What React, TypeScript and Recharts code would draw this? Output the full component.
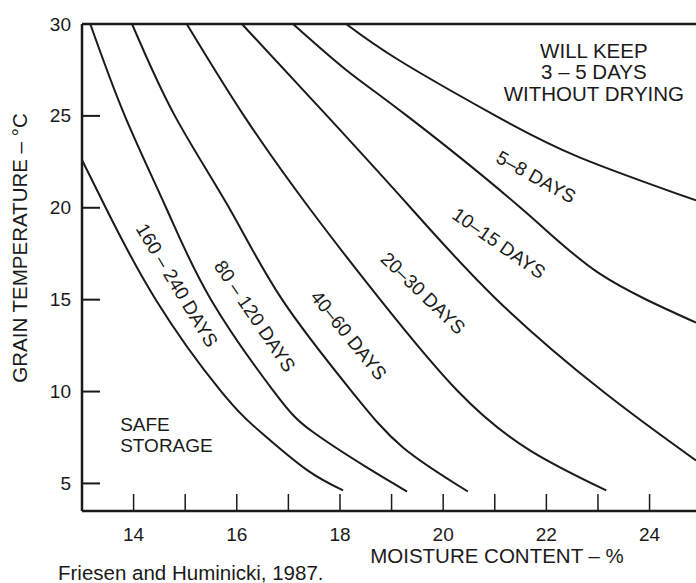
import React from 'react';
import { LineChart, Line, XAxis, YAxis, ReferenceLine, ReferenceDot } from 'recharts';

// moisture content (%) / grain temperature (°C) pairs
const safeCurve = [[13.0, 22.6], [13.46, 20.0], [14.43, 15.0], [15.7, 10.0], [16.5, 7.7], [17.35, 5.75], [18.06, 4.62]];
const days160Curve = [[13.16, 30], [13.83, 25.0], [14.63, 20.0], [15.5, 15.0], [16.72, 10.0], [17.45, 7.85], [18.52, 5.87], [19.3, 4.56]];
const days80Curve = [[13.97, 30], [14.8, 25.0], [15.85, 20.0], [16.88, 15.0], [18.23, 10.0], [19.22, 6.96], [20.48, 4.56]];
const days40Curve = [[15.03, 30], [16.14, 25.0], [17.4, 20.0], [18.78, 15.0], [20.29, 10.0], [21.68, 6.8], [23.16, 4.62]];
const days20Curve = [[16.1, 30], [17.75, 25.0], [19.37, 20.0], [21.04, 15.0], [23.1, 10.0], [24.9, 6.25]];
const days10Curve = [[17.09, 30], [18.12, 27.5], [19.3, 25.0], [21.5, 20.0], [23.04, 16.4], [24.9, 13.75]];
const days5Curve = [[18.12, 30], [19.16, 28.0], [21.02, 25.0], [22.63, 22.76], [24.9, 20.4]];

const curves = [safeCurve, days160Curve, days80Curve, days40Curve, days20Curve, days10Curve, days5Curve];

const xTicks = [14, 15, 16, 17, 18, 19, 20, 21, 22, 23, 24];
const xTickLabels = [14, 16, 18, 20, 22, 24];
const yTicks = [5, 10, 15, 20, 25, 30];

// annotation text: [label, moisture, temperature, angle]
const zoneLabels: [string, number, number, number][] = [
  ['160 – 240 DAYS', 14.84, 15.78, 59],
  ['80 – 120 DAYS', 16.35, 14.1, 56],
  ['40–60 DAYS', 18.17, 13.06, 51],
  ['20–30 DAYS', 19.61, 15.35, 44],
  ['10–15 DAYS', 21.08, 18.07, 35],
  ['5–8 DAYS', 21.8, 21.67, 29],
];
const keepLines = ['WILL KEEP', '3 – 5 DAYS', 'WITHOUT DRYING'];
const safeLines = ['SAFE', 'STORAGE'];

const FONT = '"Liberation Sans", Arial, Helvetica, sans-serif';
const INK = '#1a1a1a';

const toData = (c: number[][]) => c.map(([m, t]) => ({ m, t }));

const YTick = (props: any) => {
  const { x, y, payload } = props;
  return (
    <g>
      <line x1={x} y1={y} x2={x + 18} y2={y} stroke={INK} strokeWidth={2} />
      <text x={x - 11} y={y} textAnchor="end" dominantBaseline="central" fontSize={19} fontFamily={FONT} fill={INK}>
        {payload.value}
      </text>
    </g>
  );
};

const XTick = (props: any) => {
  const { x, y, payload } = props;
  const show = xTickLabels.includes(payload.value);
  return (
    <g>
      <line x1={x} y1={y} x2={x} y2={y - 17} stroke={INK} strokeWidth={1.5} />
      {show && (
        <text x={x} y={y + 23} textAnchor="middle" dominantBaseline="central" fontSize={19} fontFamily={FONT} fill={INK}>
          {payload.value}
        </text>
      )}
    </g>
  );
};

const rotatedLabel = (text: string, angle: number) => (p: any) => (
  <text
    x={p.cx}
    y={p.cy}
    transform={`rotate(${angle} ${p.cx} ${p.cy})`}
    textAnchor="middle"
    dominantBaseline="central"
    fontSize={19}
    fontFamily={FONT}
    fill={INK}
  >
    {text}
  </text>
);

const blockLabel = (lines: string[], anchor: 'middle' | 'start', size: number, lh: number) => (p: any) => (
  <text x={p.cx} y={p.cy} textAnchor={anchor} fontSize={size} fontFamily={FONT} fill={INK}>
    {lines.map((l, i) => (
      <tspan key={i} x={p.cx} y={p.cy + (i - (lines.length - 1) / 2) * lh} dominantBaseline="central">
        {l}
      </tspan>
    ))}
  </text>
);

export default function App() {
  return (
    <div style={{ position: 'relative', width: 696, height: 583, background: '#fff' }}>
      <style>{`body{margin:0;background:#fff}`}</style>
      <LineChart width={696} height={583} margin={{ top: 24, right: 0, left: 0, bottom: 32 }}>
        <XAxis
          dataKey="m"
          type="number"
          domain={[13, 24.9]}
          ticks={xTicks}
          allowDataOverflow
          height={40}
          tickSize={0}
          tickMargin={0}
          tickLine={false}
          tick={<XTick />}
          axisLine={{ stroke: INK, strokeWidth: 2.5 }}
        />
        <YAxis
          dataKey="t"
          type="number"
          domain={[3.5, 30]}
          ticks={yTicks}
          allowDataOverflow
          width={82}
          tickSize={0}
          tickMargin={0}
          tickLine={false}
          tick={<YTick />}
          axisLine={{ stroke: INK, strokeWidth: 2.5 }}
        />
        <ReferenceLine y={30} stroke={INK} strokeWidth={2.5} />
        {curves.map((c, i) => (
          <Line
            key={i}
            data={toData(c)}
            dataKey="t"
            type="natural"
            stroke={INK}
            strokeWidth={2}
            dot={false}
            activeDot={false}
            isAnimationActive={false}
          />
        ))}
        {zoneLabels.map(([t, m, v, a]) => (
          <ReferenceDot key={t} x={m} y={v} r={0} shape={rotatedLabel(t, a)} />
        ))}
        <ReferenceDot x={22.92} y={27.39} r={0} shape={blockLabel(keepLines, 'middle', 20.5, 21.5)} />
        <ReferenceDot x={13.74} y={7.65} r={0} shape={blockLabel(safeLines, 'start', 19, 21)} />
      </LineChart>
      <svg width={696} height={583} style={{ position: 'absolute', left: 0, top: 0, pointerEvents: 'none' }}>
        <text
          x={19}
          y={248}
          transform="rotate(-90 19 248)"
          textAnchor="middle"
          dominantBaseline="central"
          fontSize={20.5}
          fontFamily={FONT}
          fill={INK}
        >
          GRAIN TEMPERATURE – °C
        </text>
        <text x={497} y={555} textAnchor="middle" dominantBaseline="central" fontSize={20.5} fontFamily={FONT} fill={INK}>
          MOISTURE CONTENT – %
        </text>
        <text x={58} y={572} dominantBaseline="central" fontSize={20.5} fontFamily={FONT} fill={INK}>
          Friesen and Huminicki, 1987.
        </text>
      </svg>
    </div>
  );
}
